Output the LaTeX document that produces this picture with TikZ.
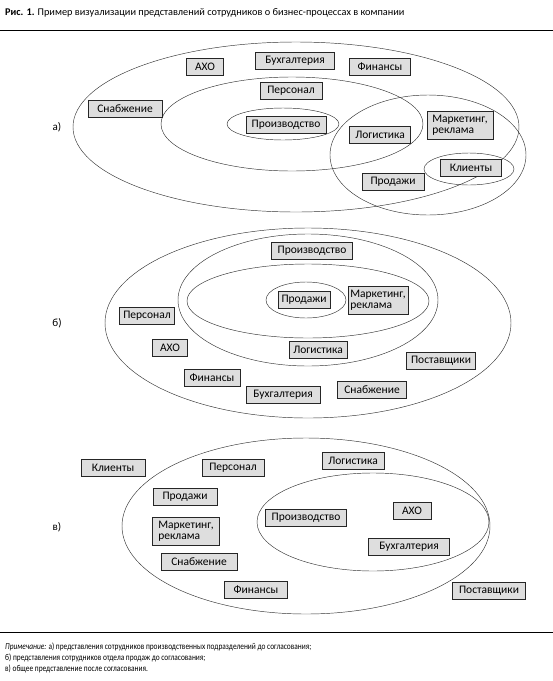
\documentclass[tikz,border=0pt]{standalone}
\usepackage{fontspec}
\setmainfont{Carlito}
\newfontfamily\condfont[FakeStretch=0.82]{Carlito}
\begin{document}
\begin{tikzpicture}[x=1pt,y=-1pt,
  box/.style={draw=black!85,line width=0.6pt,fill=black!13,inner sep=0pt,minimum height=17pt,font=\fontsize{11.5}{11.5}\selectfont},
  box2/.style={box,minimum height=28pt,align=left},
  ell/.style={draw=black!80,line width=0.45pt},
  lab/.style={font=\fontsize{11}{11}\selectfont,inner sep=0pt},
  notef/.style={anchor=west,inner sep=0pt,font=\condfont\fontsize{9}{9}\selectfont}]
\useasboundingbox (0,0) rectangle (553,681);
% title
\node[anchor=west,inner sep=0pt,font=\fontsize{10.3}{11}\selectfont] (title) at (5,13) {\textbf{Рис. 1.} Пример визуализации представлений сотрудников о бизнес-процессах в компании};
\coordinate (r1a) at (0,30); \coordinate (r1b) at (553,30);
\draw[line width=0.7pt] (r1a) -- (r1b);
% a)
\node[lab] (la) at (57,127) {а)};
\draw[ell] (296,127) ellipse [x radius=223pt,y radius=85pt];
\draw[ell] (292,124) ellipse [x radius=131pt,y radius=47pt];
\draw[ell] (283,124) ellipse [x radius=56pt,y radius=16pt];
\draw[ell] (428,155) ellipse [x radius=98pt,y radius=60pt];
\draw[ell] (469,169) ellipse [x radius=45pt,y radius=16pt];
\node[box,minimum width=37pt] (a1) at (205,67) {АХО};
\node[box,minimum width=79pt] (a2) at (295,61) {Бухгалтерия};
\node[box,minimum width=61pt] (a3) at (380,67) {Финансы};
\node[box,minimum width=74pt] (a4) at (125,109) {Снабжение};
\node[box,minimum width=62pt] (a5) at (291,91) {Персонал};
\node[box,minimum width=80pt] (a6) at (286,125) {Производство};
\node[box,minimum width=61pt] (a7) at (380,135) {Логистика};
\node[box2,minimum width=66pt] (a8) at (460,125) {Маркетинг,\\реклама};
\node[box,minimum width=61pt] (a9) at (471,168) {Клиенты};
\node[box,minimum width=62pt] (a10) at (393,182) {Продажи};
% b)
\node[lab] (lb) at (57,323) {б)};
\draw[ell] (308,323) ellipse [x radius=203pt,y radius=95pt];
\draw[ell] (308,300) ellipse [x radius=130pt,y radius=66pt];
\draw[ell] (308,301) ellipse [x radius=121pt,y radius=37pt];
\draw[ell] (306,300) ellipse [x radius=40pt,y radius=18pt];
\node[box,minimum width=81pt] (b1) at (312,251) {Производство};
\node[box,minimum width=52pt] (b2) at (304,300) {Продажи};
\node[box2,minimum width=60pt] (b3) at (378,300) {Маркетинг,\\реклама};
\node[box,minimum width=55pt] (b4) at (147,316) {Персонал};
\node[box,minimum width=35pt] (b5) at (170,348) {АХО};
\node[box,minimum width=58pt] (b6) at (318,350) {Логистика};
\node[box,minimum width=56pt] (b7) at (212,378) {Финансы};
\node[box,minimum width=74pt] (b8) at (283,395) {Бухгалтерия};
\node[box,minimum width=69pt] (b9) at (441,361) {Поставщики};
\node[box,minimum width=69pt] (b10) at (372,390) {Снабжение};
% c)
\node[lab] (lc) at (57,527) {в)};
\draw[ell] (306,526) ellipse [x radius=184pt,y radius=88pt];
\draw[ell] (373,522) ellipse [x radius=116pt,y radius=49pt];
\node[box,minimum width=64pt] (c1) at (113,468) {Клиенты};
\node[box,minimum width=62pt] (c2) at (233,468) {Персонал};
\node[box,minimum width=62pt] (c3) at (353,461) {Логистика};
\node[box,minimum width=64pt] (c4) at (185,497) {Продажи};
\node[box2,minimum width=67pt] (c5) at (186,531) {Маркетинг,\\реклама};
\node[box,minimum width=81pt] (c6) at (306,518) {Производство};
\node[box,minimum width=38pt] (c7) at (412,511) {АХО};
\node[box,minimum width=81pt] (c8) at (409,547) {Бухгалтерия};
\node[box,minimum width=76pt] (c9) at (199,562) {Снабжение};
\node[box,minimum width=63pt] (c10) at (256,590) {Финансы};
\node[box,minimum width=73pt] (c11) at (489,591) {Поставщики};
% bottom rule and note
\coordinate (r2a) at (0,632); \coordinate (r2b) at (553,632);
\draw[line width=0.7pt] (r2a) -- (r2b);
\node[notef] (n1) at (5,647) {\textit{Примечание:} а) представления сотрудников производственных подразделений до согласования;};
\node[notef] (n2) at (5,658) {б) представления сотрудников отдела продаж до согласования;};
\node[notef] (n3) at (5,669) {в) общее представление после согласования.};
\end{tikzpicture}
\end{document}
